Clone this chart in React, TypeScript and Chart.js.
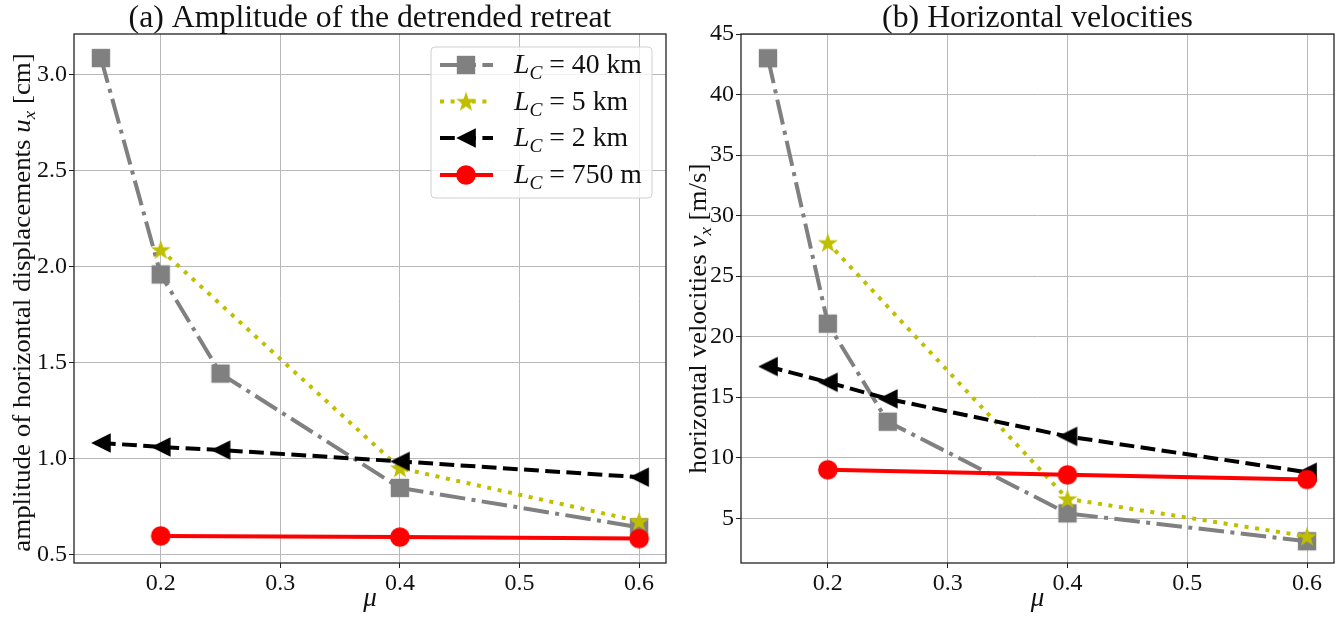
import React, { useEffect, useRef } from "react";
import { Chart, registerables } from "chart.js";

Chart.register(...registerables);

const FONT = "'Liberation Serif', 'DejaVu Serif', serif";

// ---------------- data ----------------
const muFull = [0.15, 0.2, 0.25, 0.4, 0.6];
const muShort = [0.2, 0.4, 0.6];
const seriesLabels = ["40 km", "5 km", "2 km", "750 m"];

// (a) amplitude of horizontal displacements u_x [cm]
const ampLC40km = [3.086, 1.959, 1.443, 0.848, 0.643];
const ampLC5km = [2.088, 0.951, 0.674];
const ampLC2km = [1.082, 1.061, 1.045, 0.986, 0.904];
const ampLC750m = [0.598, 0.592, 0.584];

// (b) horizontal velocities v_x [m/s]
const velLC40km = [43.0, 21.07, 12.97, 5.4, 3.1];
const velLC5km = [27.76, 6.6, 3.5];
const velLC2km = [17.53, 16.23, 14.86, 11.76, 8.8];
const velLC750m = [9.0, 8.58, 8.2];

const muTicks = [0.2, 0.3, 0.4, 0.5, 0.6];
const ampTicks = [0.5, 1.0, 1.5, 2.0, 2.5, 3.0];
const velTicks = [5, 10, 15, 20, 25, 30, 35, 40, 45];

// ---------------- styles ----------------
const STYLES = [
  { color: "#808080", dash: [25.6, 6.4, 4, 6.4], marker: "square" },
  { color: "#bfbf00", dash: [4, 6.6], marker: "star" },
  { color: "#000000", dash: [14.8, 6.4], marker: "triangle" },
  { color: "#ff0000", dash: [] as number[], marker: "circle" },
];

type Run = { t: string; it?: boolean; sub?: boolean };

function fontFor(r: Run, size: number) {
  return `${r.it ? "italic " : ""}${r.sub ? size * 0.7 : size}px ${FONT}`;
}
function runsWidth(ctx: CanvasRenderingContext2D, runs: Run[], size: number) {
  let w = 0;
  for (const r of runs) {
    ctx.font = fontFor(r, size);
    w += ctx.measureText(r.t).width;
  }
  return w;
}
function fitSize(ctx: CanvasRenderingContext2D, runs: Run[], target: number) {
  return (100 * target) / runsWidth(ctx, runs, 100);
}
function drawRuns(
  ctx: CanvasRenderingContext2D,
  runs: Run[],
  x: number,
  y: number,
  size: number,
  align: "left" | "center",
  sx = 1
) {
  const w = runsWidth(ctx, runs, size) * sx;
  const x0 = align === "center" ? x - w / 2 : x;
  ctx.save();
  ctx.translate(x0, y);
  ctx.scale(sx, 1);
  ctx.textAlign = "left";
  ctx.textBaseline = "alphabetic";
  let cx = 0;
  for (const r of runs) {
    ctx.font = fontFor(r, size);
    ctx.fillText(r.t, cx, r.sub ? size * 0.22 : 0);
    cx += ctx.measureText(r.t).width;
  }
  ctx.restore();
}

function makeMarker(kind: string, color: string): HTMLCanvasElement {
  const S = 28;
  const c = document.createElement("canvas");
  c.width = S;
  c.height = S;
  const g = c.getContext("2d")!;
  const m = S / 2;
  g.fillStyle = color;
  g.beginPath();
  if (kind === "square") {
    g.rect(m - 9.2, m - 9.2, 18.4, 18.4);
  } else if (kind === "circle") {
    g.arc(m, m, 9.8, 0, Math.PI * 2);
  } else if (kind === "triangle") {
    g.moveTo(m - 9.8, m);
    g.lineTo(m + 9.8, m - 9.8);
    g.lineTo(m + 9.8, m + 9.8);
    g.closePath();
  } else {
    for (let i = 0; i < 10; i++) {
      const r = i % 2 === 0 ? 10.5 : 4.2;
      const a = -Math.PI / 2 + (i * Math.PI) / 5;
      const px = m + r * Math.cos(a);
      const py = m + 0.8 + r * Math.sin(a);
      if (i === 0) g.moveTo(px, py);
      else g.lineTo(px, py);
    }
    g.closePath();
  }
  g.fill();
  return c;
}

const TITLE_A: Run[] = [{ t: "(a) Amplitude of the detrended retreat" }];
const TITLE_B: Run[] = [{ t: "(b) Horizontal velocities" }];
const YLAB_A: Run[] = [
  { t: "amplitude of horizontal displacements " },
  { t: "u", it: true },
  { t: "x", it: true, sub: true },
  { t: " [cm]" },
];
const YLAB_B: Run[] = [
  { t: "horizontal velocities " },
  { t: "v", it: true },
  { t: "x", it: true, sub: true },
  { t: " [m/s]" },
];
const XLAB: Run[] = [{ t: "μ", it: true }];

type PanelSpec = {
  xs: number[][];
  ys: number[][];
  yMin: number;
  yMax: number;
  yTicks: number[];
  yFmt: (v: number) => string;
  yWidth: number;
  padRight: number;
  title: Run[];
  yLabel: Run[];
  yLabelX: number;
  yLabelShift: number;
  legend: boolean;
};

function buildConfig(spec: PanelSpec): any {
  const markers = STYLES.map((s) => makeMarker(s.marker, s.color));
  const datasets = spec.ys.map((ys, k) => ({
    label: "L_C = " + seriesLabels[k],
    data: spec.xs[k].map((x, i) => ({ x, y: ys[i] })),
    borderColor: STYLES[k].color,
    backgroundColor: STYLES[k].color,
    borderWidth: 4,
    borderDash: STYLES[k].dash,
    borderCapStyle: "butt",
    borderJoinStyle: "round",
    pointStyle: markers[k],
    pointRadius: 10,
    pointHoverRadius: 10,
    tension: 0,
    fill: false,
    order: 3 - k,
  }));

  const textPlugin = {
    id: "texts",
    afterDatasetsDraw(chart: any) {
      const { ctx, chartArea: a } = chart;
      ctx.save();
      ctx.strokeStyle = "#222";
      ctx.lineWidth = 1.3;
      ctx.strokeRect(a.left, a.top, a.right - a.left, a.bottom - a.top);
      ctx.restore();
    },
    afterDraw(chart: any) {
      const { ctx, chartArea: a } = chart;
      const cx = (a.left + a.right) / 2;
      const cy = (a.top + a.bottom) / 2;
      ctx.save();
      ctx.fillStyle = "#111";
      // title
      const ts = fitSize(ctx, TITLE_A, 483);
      drawRuns(ctx, spec.title, cx, 27, ts, "center");
      // x label
      drawRuns(ctx, XLAB, cx, 606, 27, "center");
      // y label
      ctx.save();
      ctx.translate(spec.yLabelX, cy + spec.yLabelShift);
      ctx.rotate(-Math.PI / 2);
      drawRuns(ctx, spec.yLabel, 0, 0, 24.5, "center", 1.1);
      ctx.restore();

      if (spec.legend) {
        const bx = 431, by = 47, bw = 221, bh = 151, rr = 4;
        ctx.beginPath();
        ctx.moveTo(bx + rr, by);
        ctx.arcTo(bx + bw, by, bx + bw, by + bh, rr);
        ctx.arcTo(bx + bw, by + bh, bx, by + bh, rr);
        ctx.arcTo(bx, by + bh, bx, by, rr);
        ctx.arcTo(bx, by, bx + bw, by, rr);
        ctx.closePath();
        ctx.fillStyle = "rgba(255,255,255,0.8)";
        ctx.fill();
        ctx.strokeStyle = "#d0d0d0";
        ctx.lineWidth = 1;
        ctx.stroke();
        const rows = [65, 101.5, 138, 175];
        const lsz = fitSize(
          ctx,
          [{ t: "L", it: true }, { t: "C", it: true, sub: true }, { t: " = 40 km" }],
          128
        );
        STYLES.forEach((s, k) => {
          const y = rows[k];
          ctx.save();
          ctx.strokeStyle = s.color;
          ctx.lineWidth = 4;
          ctx.setLineDash(s.dash);
          ctx.lineCap = "butt";
          ctx.beginPath();
          ctx.moveTo(440, y);
          ctx.lineTo(493, y);
          ctx.stroke();
          ctx.restore();
          const mk = markers[k];
          ctx.drawImage(mk, 466 - mk.width / 2, y - mk.height / 2);
          ctx.fillStyle = "#111";
          drawRuns(
            ctx,
            [
              { t: "L", it: true },
              { t: "C", it: true, sub: true },
              { t: " = " + seriesLabels[k] },
            ],
            514,
            y + 8,
            lsz,
            "left"
          );
        });
      }
      ctx.restore();
    },
  };

  return {
    type: "line",
    data: { datasets },
    plugins: [textPlugin],
    options: {
      responsive: false,
      animation: false,
      devicePixelRatio: 1,
      events: [],
      layout: {
        autoPadding: false,
        padding: { top: 34, right: spec.padRight, left: 0, bottom: 0 },
      },
      plugins: {
        legend: { display: false },
        tooltip: { enabled: false },
        title: { display: false },
      },
      scales: {
        x: {
          type: "linear",
          min: 0.1275,
          max: 0.6225,
          afterBuildTicks: (s: any) => {
            s.ticks = muTicks.map((v) => ({ value: v }));
          },
          afterFit: (s: any) => {
            s.height = 54;
            s.paddingLeft = 0;
            s.paddingRight = 0;
          },
          ticks: {
            callback: (v: any) => Number(v).toFixed(1),
            font: { family: FONT, size: 24 },
            color: "#111",
            padding: 1,
            maxRotation: 0,
            autoSkip: false,
          },
          grid: { color: "#b8b8b8", lineWidth: 1, tickLength: 5, tickColor: "#222" },
          border: { display: false },
        },
        y: {
          type: "linear",
          min: spec.yMin,
          max: spec.yMax,
          afterBuildTicks: (s: any) => {
            s.ticks = spec.yTicks.map((v) => ({ value: v }));
          },
          afterFit: (s: any) => {
            s.width = spec.yWidth;
            s.paddingTop = 0;
            s.paddingBottom = 0;
          },
          ticks: {
            callback: (v: any) => spec.yFmt(Number(v)),
            font: { family: FONT, size: 24 },
            color: "#111",
            padding: 2,
            autoSkip: false,
          },
          grid: { color: "#b8b8b8", lineWidth: 1, tickLength: 5, tickColor: "#222" },
          border: { display: false },
        },
      },
    },
  };
}

function Panel({ spec, left }: { spec: PanelSpec; left: number }) {
  const ref = useRef<HTMLCanvasElement>(null);
  useEffect(() => {
    const chart = new Chart(ref.current!, buildConfig(spec));
    return () => chart.destroy();
  }, []);
  return (
    <canvas
      ref={ref}
      width={670}
      height={617}
      style={{ position: "absolute", left, top: 0, width: 670, height: 617 }}
    />
  );
}

const specA: PanelSpec = {
  xs: [muFull, muShort, muFull, muShort],
  ys: [ampLC40km, ampLC5km, ampLC2km, ampLC750m],
  yMin: 0.457,
  yMax: 3.211,
  yTicks: ampTicks,
  yFmt: (v) => v.toFixed(1),
  yWidth: 74,
  padRight: 4,
  title: TITLE_A,
  yLabel: YLAB_A,
  yLabelX: 30,
  yLabelShift: 4,
  legend: true,
};

const specB: PanelSpec = {
  xs: [muFull, muShort, muFull, muShort],
  ys: [velLC40km, velLC5km, velLC2km, velLC750m],
  yMin: 1.3,
  yMax: 45.0,
  yTicks: velTicks,
  yFmt: (v) => String(Math.round(v)),
  yWidth: 71,
  padRight: 6,
  title: TITLE_B,
  yLabel: YLAB_B,
  yLabelX: 36,
  yLabelShift: 20,
  legend: false,
};

export default function App() {
  return (
    <div
      style={{
        position: "fixed",
        left: 0,
        top: 0,
        width: 1340,
        height: 617,
        background: "#fff",
        overflow: "hidden",
      }}
    >
      <Panel spec={specA} left={0} />
      <Panel spec={specB} left={670} />
    </div>
  );
}
